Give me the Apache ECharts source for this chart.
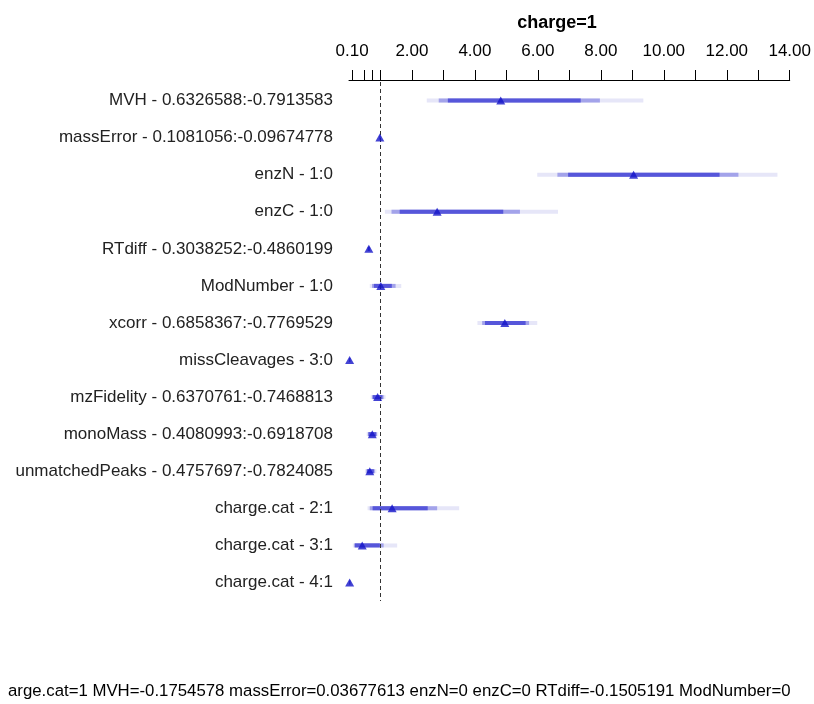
<!DOCTYPE html>
<html>
<head>
<meta charset="utf-8">
<script src="https://cdn.jsdelivr.net/npm/echarts@6/dist/echarts.min.js"></script>
<style>
  html, body { margin: 0; padding: 0; background: #fff; }
  #chart { width: 814px; height: 704px; }
</style>
</head>
<body>
<div id="chart"></div>
<script>
const labels = [
    'MVH - 0.6326588:-0.7913583',
    'massError - 0.1081056:-0.09674778',
    'enzN - 1:0',
    'enzC - 1:0',
    'RTdiff - 0.3038252:-0.4860199',
    'ModNumber - 1:0',
    'xcorr - 0.6858367:-0.7769529',
    'missCleavages - 3:0',
    'mzFidelity - 0.6370761:-0.7468813',
    'monoMass - 0.4080993:-0.6918708',
    'unmatchedPeaks - 0.4757697:-0.7824085',
    'charge.cat - 2:1',
    'charge.cat - 3:1',
    'charge.cat - 4:1'
];

// odds ratio estimates
const estimate = [4.82, 0.98, 9.04, 2.80, 0.63, 1.01, 4.95, 0.02, 0.91, 0.74, 0.66, 1.37, 0.42, 0.02];

// confidence bands (0.99 / 0.95 / 0.90)
const lo99 = [2.47, 0.96, 5.98, 1.14, 0.58, 0.66, 4.08, 0.01, 0.69, 0.56, 0.51, 0.59, 0.12, 0.01];
const hi99 = [9.35, 1.01, 13.61, 6.64, 0.68, 1.66, 5.98, 0.03, 1.16, 0.93, 0.87, 3.50, 1.53, 0.03];
const lo95 = [2.85, 0.97, 6.62, 1.35, 0.59, 0.73, 4.23, 0.01, 0.73, 0.60, 0.55, 0.66, 0.16, 0.01];
const hi95 = [7.97, 1.00, 12.37, 5.43, 0.67, 1.48, 5.72, 0.03, 1.10, 0.89, 0.82, 2.80, 1.10, 0.03];
const lo90 = [3.14, 0.97, 6.96, 1.61, 0.60, 0.79, 4.32, 0.01, 0.76, 0.62, 0.57, 0.75, 0.19, 0.01];
const hi90 = [7.36, 0.99, 11.77, 4.90, 0.66, 1.36, 5.61, 0.03, 1.06, 0.86, 0.79, 2.50, 0.98, 0.03];

const tickValues = [0.1, 0.5, 0.75, 1, 2, 3, 4, 5, 6, 7, 8, 9, 10, 11, 12, 13, 14];
const labelValues = [0.1, 2, 4, 6, 8, 10, 12, 14];

const footer = 'arge.cat=1 MVH=-0.1754578 massError=0.03677613 enzN=0 enzC=0 RTdiff=-0.1505191 ModNumber=0';

const font = '"Liberation Sans", Arial, sans-serif';

function band(lo, hi, color, name) {
    return {
        name: name,
        type: 'custom',
        renderItem: function (params, api) {
            const a = api.coord([api.value(0), api.value(2)]);
            const b = api.coord([api.value(1), api.value(2)]);
            const h = 4;
            return {
                type: 'rect',
                shape: { x: a[0], y: a[1] - h / 2, width: Math.max(b[0] - a[0], 1), height: h },
                style: { fill: color }
            };
        },
        encode: { x: [0, 1], y: 2 },
        data: lo.map((v, i) => [v, hi[i], i]),
        silent: true,
        z: 2
    };
}

const chart = echarts.init(document.getElementById('chart'));
chart.setOption({
    animation: false,
    title: {
        text: 'charge=1',
        left: 552,
        top: 9,
        textAlign: 'center',
        textStyle: { fontFamily: font, fontSize: 18, fontWeight: 'bold', color: '#000' }
    },
    grid: { left: 349, right: 21, top: 82, height: 519 },
    xAxis: {
        type: 'value',
        position: 'top',
        min: 0,
        max: 14,
        offset: 2,
        axisLine: { show: true, lineStyle: { color: '#000', width: 1 } },
        axisTick: { show: true, length: 10, customValues: tickValues, lineStyle: { color: '#000' } },
        axisLabel: {
            customValues: labelValues,
            margin: 20,
            fontFamily: font,
            fontSize: 17,
            color: '#000',
            formatter: v => v.toFixed(2)
        },
        splitLine: { show: false }
    },
    yAxis: {
        type: 'category',
        inverse: true,
        data: labels,
        axisLine: { show: false },
        axisTick: { show: false },
        axisLabel: { margin: 16, fontFamily: font, fontSize: 17, color: '#222' },
        splitLine: { show: false }
    },
    series: [
        band(lo99, hi99, '#e6e6f8', 'q99'),
        band(lo95, hi95, '#a3a3ea', 'q95'),
        band(lo90, hi90, '#5656da', 'q90'),
        {
            type: 'scatter',
            data: estimate.map((v, i) => [v, i]),
            symbol: 'triangle',
            symbolSize: [9, 8],
            itemStyle: { color: '#1414c8' },
            z: 5,
            clip: false,
            markLine: {
                silent: true,
                symbol: 'none',
                label: { show: false },
                lineStyle: { type: [4, 3], color: '#333', width: 1 },
                data: [{ xAxis: 1 }]
            }
        }
    ],
    graphic: [{
        type: 'text',
        left: 8,
        top: 683,
        style: { text: footer, fontFamily: font, fontSize: 16.8, fill: '#000' }
    }]
});
</script>
</body>
</html>
